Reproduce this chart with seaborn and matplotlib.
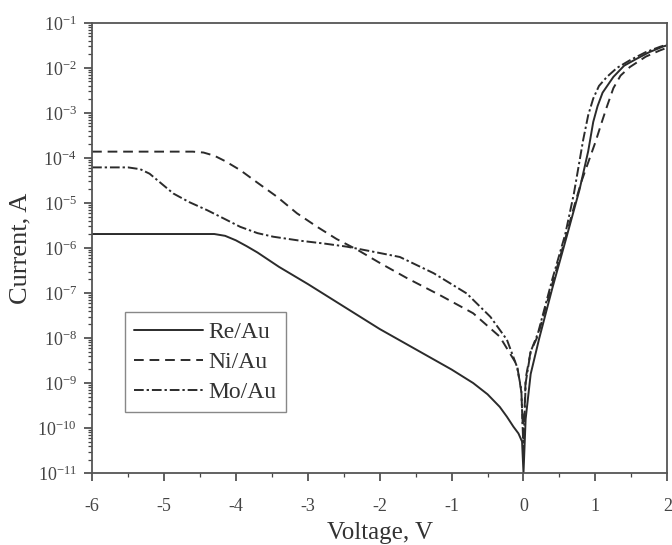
import numpy as np
import pandas as pd
import matplotlib
matplotlib.use('Agg')
import matplotlib.pyplot as plt
import seaborn as sns
from matplotlib.ticker import LogLocator, MultipleLocator, NullFormatter

# I-V curves: voltage in V, log10 of current in A
re_v = [-6, -4.3, -4.15, -4.0, -3.85, -3.7, -3.4, -3.0, -2.5, -2.0, -1.5, -1.0, -0.7,
        -0.5, -0.33, -0.23, -0.14, -0.07, -0.02, 0.0,
        0.03, 0.1, 0.22, 0.4, 0.6, 0.78, 0.9, 0.97, 1.03, 1.1, 1.25, 1.4, 1.57, 1.75, 1.95, 2.0]
re_log = [-5.69, -5.69, -5.73, -5.83, -5.96, -6.1, -6.42, -6.8, -7.3, -7.8, -8.25, -8.7, -9.0,
          -9.25, -9.53, -9.75, -9.97, -10.12, -10.3, -11.0,
          -9.8, -8.8, -8.0, -6.9, -5.75, -4.7, -3.85, -3.2, -2.85, -2.55, -2.2, -1.95, -1.8, -1.65, -1.52, -1.5]

ni_v = [-6, -4.6, -4.45, -4.3, -4.15, -3.94, -3.7, -3.43, -3.15, -2.87, -2.6, -2.3, -1.99, -1.62,
        -1.16, -0.7, -0.33, -0.09, -0.03, 0.0,
        0.03, 0.1, 0.2, 0.4, 0.58, 0.7, 0.8, 0.9, 1.0, 1.09, 1.16, 1.25, 1.35, 1.48, 1.7, 1.9, 2.0]
ni_log = [-3.86, -3.86, -3.88, -3.95, -4.07, -4.27, -4.55, -4.86, -5.23, -5.53, -5.8, -6.05, -6.34, -6.67,
          -7.05, -7.45, -7.97, -8.6, -9.2, -10.3,
          -8.9, -8.3, -7.95, -6.8, -5.8, -5.1, -4.55, -4.1, -3.65, -3.2, -2.86, -2.45, -2.17, -1.98, -1.75, -1.61, -1.55]

mo_v = [-6, -5.5, -5.33, -5.2, -5.05, -4.87, -4.65, -4.4, -4.15, -3.94, -3.7, -3.48, -3.1, -2.78,
        -2.46, -2.1, -1.72, -1.25, -0.79, -0.46, -0.23, -0.09, -0.03, 0.0,
        0.03, 0.1, 0.2, 0.4, 0.58, 0.7, 0.83, 0.9, 0.97, 1.05, 1.16, 1.3, 1.48, 1.7, 1.9, 2.0]
mo_log = [-4.21, -4.21, -4.25, -4.35, -4.55, -4.79, -4.98, -5.16, -5.36, -5.53, -5.67, -5.75, -5.84, -5.9,
          -5.97, -6.08, -6.2, -6.56, -7.01, -7.53, -8.04, -8.64, -9.15, -10.5,
          -9.0, -8.3, -7.9, -6.7, -5.7, -4.8, -3.6, -3.05, -2.68, -2.4, -2.2, -2.0, -1.83, -1.65, -1.53, -1.48]

labels = ['Re/Au', 'Ni/Au', 'Mo/Au']
x_ticks = [-6, -5, -4, -3, -2, -1, 0, 1, 2]

sns.set_style('ticks')
plt.rcParams['font.family'] = ['Liberation Serif', 'DejaVu Serif']
plt.rcParams['mathtext.fontset'] = 'stix'

fig = plt.figure(figsize=(6.72, 5.45), dpi=100)
ax = fig.add_axes([0.137, 0.132, 0.856, 0.826])

ink = '#2b2b2b'
styles = [None, (5, 3), (5, 1.5, 1.2, 1.5)]
for (v, lg), lab, dash in zip([(re_v, re_log), (ni_v, ni_log), (mo_v, mo_log)], labels, styles):
    df = pd.DataFrame({'Voltage': v, 'Current': np.power(10.0, lg)})
    sns.lineplot(data=df, x='Voltage', y='Current', ax=ax, color=ink, lw=1.4,
                 sort=False, label=lab)
    if dash is not None:
        ax.get_lines()[-1].set_dashes(dash)

ax.set_yscale('log')
ax.set_xlim(-6, 2)
ax.set_ylim(1e-11, 1e-1)
ax.set_xticks(x_ticks)
ax.set_xticklabels([str(t) for t in x_ticks])
ax.xaxis.set_minor_locator(MultipleLocator(0.5))
ax.yaxis.set_major_locator(LogLocator(base=10, numticks=20))
ax.yaxis.set_minor_locator(LogLocator(base=10, subs=np.arange(2, 10), numticks=20))
ax.yaxis.set_minor_formatter(NullFormatter())

for s in ax.spines.values():
    s.set_color('#555555')
    s.set_linewidth(1.3)
ax.tick_params(which='major', length=6, width=1.2, color='#444444', labelsize=13, labelcolor='#444444')
ax.tick_params(which='minor', length=3, width=0.9, color='#444444')
ax.tick_params(axis='y', which='both', right=False, pad=5)
ax.tick_params(axis='x', which='both', top=False, pad=12)

ax.set_xlabel('Voltage, V', fontsize=18, color='#333333', labelpad=5)
ax.set_ylabel('Current, A', fontsize=19, color='#333333', labelpad=4)

leg = ax.legend(loc='upper left', bbox_to_anchor=(0.057, 0.357), borderaxespad=0,
                fontsize=17, handlelength=2.9, handletextpad=0.25, labelspacing=0.35,
                borderpad=0.4, fancybox=False, edgecolor='#888888', framealpha=1)
for t in leg.get_texts():
    t.set_color('#333333')

fig.savefig('out.png', dpi=100)
